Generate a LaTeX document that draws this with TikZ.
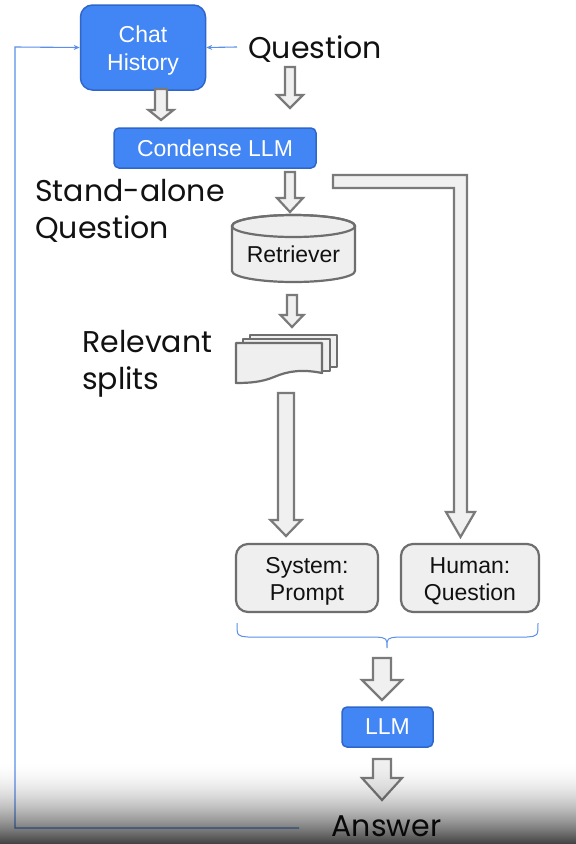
\documentclass[tikz,border=0pt]{standalone}
\usepackage{fontspec}
\setmainfont{Liberation Sans}
\newfontfamily\pop{Poppins}
\usetikzlibrary{arrows.meta}
\definecolor{gblue}{HTML}{4285F4}
\definecolor{gblueb}{HTML}{2E67C9}
\definecolor{lblue}{HTML}{5A8FEA}
\definecolor{agray}{HTML}{7A7A7A}
\definecolor{afill}{HTML}{F0F0F0}
\definecolor{bgray}{HTML}{6E6E6E}
\definecolor{bfill}{HTML}{EFEFEF}
\definecolor{txt}{HTML}{111111}
\newcommand{\barrow}[6]{\draw[blockarrow] ({#1-#5},#2) -- ({#1+#5},#2) -- ({#1+#5},#3) -- ({#1+#6},#3) -- (#1,#4) -- ({#1-#6},#3) -- ({#1-#5},#3) -- cycle;}
\begin{document}
\begin{tikzpicture}[x=1pt,y=-1pt,
  bluebox/.style={draw=gblueb, fill=gblue, line width=1.5pt, rounded corners=#1, text=white, font=\fontsize{23}{28}\selectfont, align=center, inner sep=0pt},
  graybox/.style={draw=bgray, fill=bfill, line width=2.2pt, rounded corners=12pt, inner sep=0pt, minimum height=68pt},
  boxtext/.style={align=center, yshift=-3pt, font=\fontsize{23}{27}\selectfont},
  lbl/.style={text=txt, font=\pop\fontsize{30}{37}\selectfont, inner sep=0pt},
  blockarrow/.style={draw=agray, fill=afill, line width=2.2pt, line join=miter},
  blueline/.style={draw=lblue, line width=1.1pt},
  tip/.style={-{Stealth[length=6pt,width=5pt]}}]
\useasboundingbox (0,0) rectangle (576,844);
\fill[white] (0,0) rectangle (576,844);

% nodes
\node[bluebox=12pt, minimum width=125pt, minimum height=85pt,
  label={[boxtext, text=white, font=\fontsize{23}{28}\selectfont]center:Chat\\History}] (chat) at (143,47.5) {};
\node[lbl, anchor=west] (question) at (248,49) {Question};
\node[bluebox=5pt, minimum width=202pt, minimum height=40pt] (condense) at (215,148) {Condense LLM};
\node[lbl, anchor=west, align=left] (standalone) at (35,211) {Stand-alone\\Question};

% retriever cylinder
\draw[draw=bgray, fill=bfill, line width=2.2pt] (232,226) -- (232,271) arc[start angle=180, end angle=360, x radius=61.5pt, y radius=11pt] -- (355,226) arc[start angle=0, end angle=180, x radius=61.5pt, y radius=11pt] -- cycle;
\draw[draw=bgray, line width=2.2pt] (293.5,226) ellipse[x radius=61.5pt, y radius=11pt];
\node[text=txt, font=\fontsize{23}{27}\selectfont, inner sep=0pt] (retriever) at (293.5,254) {Retriever};

% splits documents
\draw[draw=bgray, fill=bfill, line width=2pt, line join=round] (250,335) rectangle (337,367);
\draw[draw=bgray, fill=bfill, line width=2pt, line join=round] (243,339) rectangle (330,371);
\draw[draw=bgray, fill=bfill, line width=2.2pt, line join=round] (236,343) -- (322,343) -- (322,373) .. controls (302,369) and (288,371) .. (274,377) .. controls (262,382) and (250,383) .. (236,383) -- cycle;
\coordinate (splits) at (286,363);
\node[lbl, anchor=west, align=left] (relevant) at (82,364) {Relevant\\splits};

\node[graybox, minimum width=142pt, label={[boxtext, text=txt]center:System:\\Prompt}] (system) at (307,578) {};
\node[graybox, minimum width=138pt, label={[boxtext, text=txt]center:Human:\\Question}] (human) at (470,578) {};

\node[bluebox=5pt, minimum width=91pt, minimum height=40pt] (llm) at (387.5,727) {LLM};
\node[lbl] (answer) at (386.5,826) {Answer};

% block arrows
\barrow{161}{89}{110}{120}{6}{12.5}
\barrow{290}{67}{95}{108}{5}{13}
\barrow{290}{172}{198}{212}{5}{13}
\barrow{292}{295}{315}{327}{5}{11.5}
\barrow{286}{393}{520}{536}{8}{15.5}
\draw[blockarrow] (333,175) -- (467,175) -- (467,512) -- (475,512) -- (460.5,537) -- (446,512) -- (454,512) -- (454,188) -- (333,188) -- cycle;
\barrow{382}{658}{680}{700}{9}{20}
\barrow{382}{759}{778}{800}{9}{20}

% brace
\draw[blueline, line width=1pt] (237,623) .. controls (237,636) .. (248,637) -- (376,637) .. controls (387,638) .. (387,648) .. controls (387,638) .. (398,637) -- (527,637) .. controls (538,636) .. (538,623);

% feedback lines
\coordinate (qstart) at (237,47);
\coordinate (fb) at (299,828);
\draw[blueline, tip] (qstart) -- (chat.east);
\draw[blueline, tip] (fb) -- (15,828) -- (15,47) -- (chat.west);

% bottom darkening (video overlay)
\foreach \i in {0,...,83}{
  \pgfmathsetmacro{\op}{0.75*(\i/84)^1.9}
  \fill[black, opacity=\op] (0,{760+\i}) rectangle (576,{761+\i});
}
\end{tikzpicture}
\end{document}
